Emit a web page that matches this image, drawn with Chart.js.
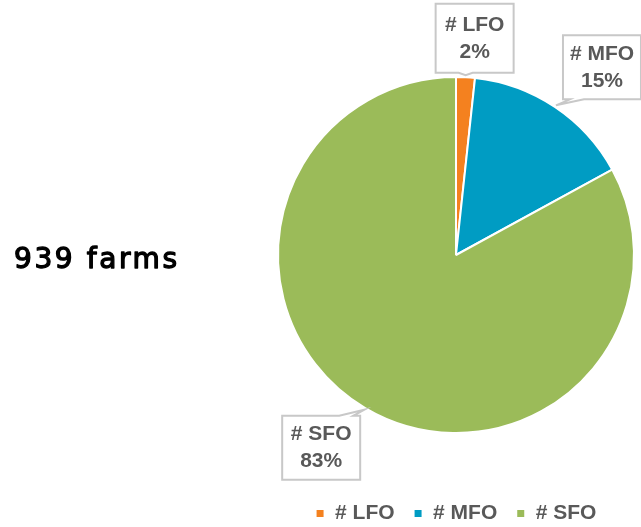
<!DOCTYPE html>
<html>
<head>
<meta charset="utf-8">
<script src="https://cdn.jsdelivr.net/npm/chart.js@4.4.1/dist/chart.umd.min.js"></script>
<style>
  html, body { margin: 0; padding: 0; background: #fff; }
</style>
</head>
<body>
<canvas id="chart" width="641" height="527"></canvas>
<script>
const categories = ['# LFO', '# MFO', '# SFO'];
const farmCounts = [16, 144, 779];
const totalLabel = '939 farms';

const sliceColors = ['#F4811F', '#009CC3', '#9BBB59'];
const labelFont = 'bold 21px "Liberation Sans", Arial, sans-serif';
// where each callout box sits, relative to the tip of its leader
const calloutOffsets = [[9, -37], [46, -38], [-43, 38]];
const calloutHeights = [69, 64, 64];

function drawCallout(ctx, bx, by, w, h, tx, ty) {
  const r = bx + w, b = by + h, half = 7;
  const clamp = (v, lo, hi) => Math.min(Math.max(v, lo), hi);
  const pts = [[bx, by]];
  if (ty < by) {
    const c = clamp(tx, bx + 14, r - 14);
    pts.push([c - half, by], [tx, ty], [c + half, by]);
  }
  pts.push([r, by], [r, b]);
  if (ty > b) {
    const c = clamp(tx, bx + 14, r - 14);
    pts.push([c + half, b], [tx, ty], [c - half, b]);
  }
  pts.push([bx, b]);

  ctx.beginPath();
  pts.forEach(([x, y], i) => i ? ctx.lineTo(x, y) : ctx.moveTo(x, y));
  ctx.closePath();
  ctx.fillStyle = '#fff';
  ctx.fill();
  ctx.lineWidth = 2;
  ctx.strokeStyle = '#C8C8C8';
  ctx.stroke();
}

const callouts = {
  id: 'callouts',
  afterDatasetsDraw(chart) {
    const ctx = chart.ctx;
    const total = farmCounts.reduce((a, b) => a + b, 0);
    ctx.save();
    chart.getDatasetMeta(0).data.forEach((arc, i) => {
      const p = arc.getProps(['x', 'y', 'startAngle', 'endAngle', 'outerRadius'], true);
      const mid = (p.startAngle + p.endAngle) / 2;
      const tx = p.x + Math.cos(mid) * (p.outerRadius + 2);
      const ty = p.y + Math.sin(mid) * (p.outerRadius + 2);
      const cx = tx + calloutOffsets[i][0];
      const cy = ty + calloutOffsets[i][1];
      const w = 78, h = calloutHeights[i];
      drawCallout(ctx, cx - w / 2, cy - h / 2, w, h, tx, ty);

      ctx.font = labelFont;
      ctx.fillStyle = '#595959';
      ctx.textAlign = 'center';
      ctx.textBaseline = 'middle';
      ctx.fillText(categories[i], cx, cy - 13.5);
      ctx.fillText(Math.round(farmCounts[i] / total * 100) + '%', cx, cy + 13.5);
    });

    // total count, left of the pie
    ctx.font = '28px "DejaVu Sans", sans-serif';
    ctx.letterSpacing = '2.6px';
    ctx.fillStyle = '#000';
    ctx.strokeStyle = '#000';
    ctx.lineWidth = 1.3;
    ctx.lineJoin = 'round';
    ctx.textAlign = 'left';
    ctx.textBaseline = 'alphabetic';
    ctx.fillText(totalLabel, 14, 268);
    ctx.strokeText(totalLabel, 14, 268);
    ctx.restore();
  }
};

new Chart(document.getElementById('chart'), {
  type: 'pie',
  data: {
    labels: categories,
    datasets: [{
      data: farmCounts,
      backgroundColor: sliceColors,
      borderColor: '#fff',
      borderWidth: 2
    }]
  },
  options: {
    responsive: false,
    animation: false,
    layout: { padding: { left: 277, right: 6, top: 26, bottom: -7 } },
    plugins: {
      legend: {
        position: 'bottom',
        labels: {
          boxWidth: 9,
          boxHeight: 9,
          padding: 19,
          color: '#595959',
          font: { family: '"Liberation Sans", Arial, sans-serif', size: 21, weight: 'bold' }
        }
      },
      tooltip: { enabled: false }
    }
  },
  plugins: [callouts]
});
</script>
</body>
</html>
